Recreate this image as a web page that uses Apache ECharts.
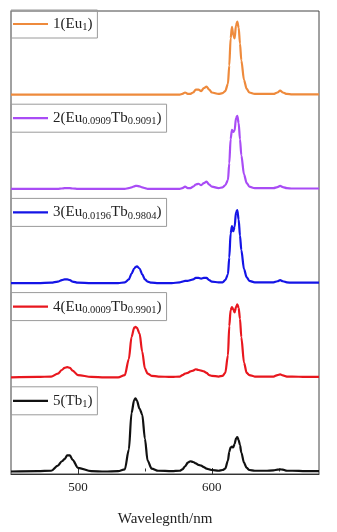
<!DOCTYPE html>
<html>
<head>
<meta charset="utf-8">
<script src="https://cdn.jsdelivr.net/npm/echarts@6/dist/echarts.min.js"></script>
<style>
  html, body { margin: 0; padding: 0; background: #fff; }
  #chart { width: 337px; height: 532px; }
</style>
</head>
<body>
<div id="chart"></div>
<script>
// Emission spectra, each normalised to its own strongest peak
const wavelength = [450, 470, 480, 485, 488, 490, 492, 494, 496, 500, 510, 520, 530, 535, 538, 540, 542, 543, 544, 546, 548, 550, 552, 555, 560, 570, 576, 578, 580, 582, 584, 586, 588, 590, 592, 594, 596, 598, 600, 605, 608, 610, 612, 613, 614, 615, 616, 617, 618, 619, 620, 621, 622, 624, 626, 628, 632, 640, 646, 649, 651, 653, 656, 660, 670, 680];

const s1 = [0, 0, 0, 0, 0, 0, 0, 0, 0, 0, 0, 0, 0, 0, 0, 0, 0, 0, 0, 0, 0, 0, 0, 0, 0, 0, 0, 0.01, 0.03, 0.01, 0.01, 0.03, 0.07, 0.07, 0.05, 0.09, 0.11, 0.07, 0.03, 0.01, 0.02, 0.05, 0.15, 0.4, 0.77, 0.93, 0.82, 0.77, 0.95, 1.0, 0.92, 0.7, 0.47, 0.2, 0.08, 0.03, 0.01, 0.01, 0.01, 0.03, 0.055, 0.03, 0.01, 0.005, 0.005, 0.005];

const s2 = [0, 0, 0, 0, 0.005, 0.01, 0.01, 0.01, 0.005, 0, 0, 0, 0, 0, 0.01, 0.02, 0.035, 0.04, 0.04, 0.035, 0.02, 0.01, 0, 0, 0, 0, 0, 0.01, 0.03, 0.01, 0.01, 0.03, 0.06, 0.07, 0.05, 0.08, 0.1, 0.06, 0.03, 0.01, 0.02, 0.05, 0.12, 0.35, 0.68, 0.81, 0.78, 0.8, 0.97, 1.0, 0.9, 0.68, 0.46, 0.2, 0.08, 0.03, 0.01, 0.01, 0.01, 0.025, 0.04, 0.025, 0.01, 0.005, 0.005, 0.005];

const s3 = [0, 0, 0.005, 0.02, 0.04, 0.05, 0.05, 0.04, 0.02, 0.005, 0, 0, 0, 0.01, 0.05, 0.13, 0.2, 0.22, 0.23, 0.2, 0.12, 0.05, 0.02, 0.005, 0, 0, 0.01, 0.02, 0.03, 0.03, 0.04, 0.05, 0.07, 0.07, 0.06, 0.07, 0.07, 0.04, 0.02, 0.01, 0.01, 0.04, 0.12, 0.35, 0.68, 0.78, 0.71, 0.77, 0.97, 1.0, 0.87, 0.65, 0.45, 0.19, 0.08, 0.03, 0.01, 0.01, 0.01, 0.025, 0.04, 0.025, 0.01, 0.005, 0.005, 0.005];

const s4 = [0, 0.005, 0.01, 0.05, 0.1, 0.13, 0.14, 0.13, 0.09, 0.03, 0.005, 0, 0, 0.03, 0.25, 0.55, 0.68, 0.69, 0.68, 0.6, 0.35, 0.12, 0.05, 0.02, 0.01, 0.005, 0.01, 0.03, 0.05, 0.06, 0.08, 0.09, 0.11, 0.1, 0.09, 0.08, 0.06, 0.03, 0.02, 0.01, 0.02, 0.06, 0.3, 0.7, 0.92, 0.96, 0.93, 0.89, 0.96, 1.0, 0.95, 0.8, 0.55, 0.2, 0.06, 0.03, 0.01, 0.01, 0.01, 0.03, 0.04, 0.025, 0.01, 0.01, 0.005, 0.005];

const s5 = [0, 0.005, 0.01, 0.08, 0.14, 0.17, 0.22, 0.22, 0.16, 0.05, 0.005, 0, 0.005, 0.03, 0.3, 0.8, 0.98, 1.0, 0.97, 0.86, 0.78, 0.45, 0.15, 0.04, 0.01, 0.005, 0.01, 0.03, 0.07, 0.12, 0.14, 0.13, 0.11, 0.09, 0.08, 0.06, 0.04, 0.03, 0.02, 0.01, 0.02, 0.04, 0.15, 0.27, 0.33, 0.34, 0.33, 0.38, 0.45, 0.47, 0.43, 0.36, 0.26, 0.12, 0.05, 0.02, 0.01, 0.01, 0.015, 0.025, 0.03, 0.025, 0.01, 0.01, 0.005, 0.005];

const seriesValues = [s1, s2, s3, s4, s5];
const seriesNames = [
  '1(Eu{s|1})',
  '2(Eu{s|0.0909}Tb{s|0.9091})',
  '3(Eu{s|0.0196}Tb{s|0.9804})',
  '4(Eu{s|0.0009}Tb{s|0.9901})',
  '5(Tb{s|1})'
];
const seriesColors = ['#EE8A3C', '#A94CF5', '#1414E6', '#E8171E', '#111111'];
const majorTicks = [500, 600];
const minorTicks = [550, 650];
const xTitle = 'Wavelegnth/nm';

const PLOT_LEFT = 11, PLOT_RIGHT = 18, PLOT_TOP = 11, PLOT_BOTTOM = 50;
const PANEL_H = (532 - PLOT_TOP - PLOT_BOTTOM) / 5;
const SERIF = '"Liberation Serif", "Times New Roman", serif';

const grids = [{
  left: PLOT_LEFT, right: PLOT_RIGHT, top: PLOT_TOP, bottom: PLOT_BOTTOM,
  show: true, borderColor: '#444', borderWidth: 1, backgroundColor: 'transparent'
}];
const xAxes = [{
  gridIndex: 0, type: 'value', min: 450, max: 680,
  axisLine: { show: true, lineStyle: { color: '#333', width: 1 } },
  axisTick: { show: true, inside: true, length: 6, customValues: majorTicks, lineStyle: { color: '#333' } },
  axisLabel: { show: true, customValues: majorTicks, margin: 7, color: '#222', fontSize: 13, fontFamily: SERIF },
  splitLine: { show: false },
  name: xTitle, nameLocation: 'middle', nameGap: 38,
  nameTextStyle: { color: '#222', fontSize: 15, fontFamily: SERIF }
}];
const yAxes = [{ gridIndex: 0, type: 'value', min: 0, max: 1, show: false }];
const series = [];
const legends = [];

seriesValues.forEach((vals, i) => {
  const g = i + 1;
  grids.push({ left: PLOT_LEFT, right: PLOT_RIGHT, top: PLOT_TOP + i * PANEL_H, height: PANEL_H, show: false });
  const isLast = i === seriesValues.length - 1;
  xAxes.push({
    gridIndex: g, type: 'value', min: 450, max: 680, show: isLast,
    axisLine: { show: false },
    axisTick: { show: isLast, inside: true, length: 3, customValues: minorTicks, lineStyle: { color: '#333' } },
    axisLabel: { show: false },
    splitLine: { show: false }
  });
  yAxes.push({ gridIndex: g, type: 'value', min: -0.144, max: 1.146, show: false });
  series.push({
    name: seriesNames[i],
    type: 'line',
    xAxisIndex: g, yAxisIndex: g,
    data: wavelength.map((w, k) => [w, vals[k]]),
    symbol: 'none',
    smooth: 0.3,
    smoothMonotone: 'x',
    lineStyle: { color: seriesColors[i], width: 2.2 },
    itemStyle: { color: seriesColors[i] },
    animation: false
  });
  legends.push({
    data: [{ name: seriesNames[i], icon: 'rect' }],
    left: PLOT_LEFT, top: PLOT_TOP - 1 + i * PANEL_H,
    orient: 'horizontal',
    selectedMode: false,
    borderColor: '#9a9a9a', borderWidth: 1,
    padding: [5, 5, 5, 2],
    itemWidth: 35, itemHeight: 2.2,
    itemStyle: { color: seriesColors[i], borderWidth: 0 },
    formatter: n => n,
    textStyle: {
      color: '#222', fontSize: 15, fontFamily: SERIF, lineHeight: 18,
      rich: { s: { fontSize: 10.5, fontFamily: SERIF, color: '#222', verticalAlign: 'bottom', lineHeight: 10 } }
    }
  });
});

const chart = echarts.init(document.getElementById('chart'), null, { renderer: 'canvas' });
chart.setOption({
  backgroundColor: '#fff',
  animation: false,
  grid: grids,
  xAxis: xAxes,
  yAxis: yAxes,
  legend: legends,
  series: series
});
</script>
</body>
</html>
